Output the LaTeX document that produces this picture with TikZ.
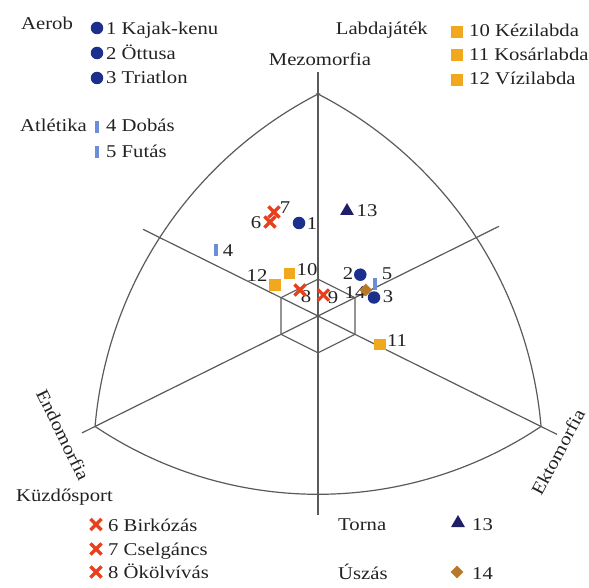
\documentclass[tikz,border=0pt]{standalone}
\usepackage{fontspec}
\setmainfont{Liberation Serif}
\usepackage{graphicx}
\usetikzlibrary{shapes.geometric,shapes.misc}
\definecolor{axis}{HTML}{5A5A5A}
\definecolor{txt}{HTML}{222222}
\definecolor{aerob}{HTML}{1B2F8C}
\definecolor{atl}{HTML}{6B8ED6}
\definecolor{kuzd}{HTML}{E8401C}
\definecolor{labd}{HTML}{F2A81D}
\definecolor{torna}{HTML}{1E1F66}
\definecolor{uszas}{HTML}{B8782A}
\newcommand{\sx}[1]{\scalebox{1.15}[1]{#1}}
\begin{document}
\begin{tikzpicture}[x=1pt,y=-1pt,
  axisline/.style={draw=axis,line width=1.2pt},
  lab/.style={font=\fontsize{18}{20}\selectfont,text=txt,inner sep=0pt},
  aer/.style={circle,fill=aerob,minimum size=12.5pt,inner sep=0pt},
  atlm/.style={rectangle,fill=atl,minimum width=4.5pt,minimum height=11.5pt,inner sep=0pt},
  labm/.style={rectangle,fill=labd,minimum size=11.5pt,inner sep=0pt},
  kuzm/.style={cross out,draw=kuzd,line width=3.2pt,minimum size=8pt,inner sep=0pt},
  tornam/.style={regular polygon,regular polygon sides=3,fill=torna,minimum size=16pt,inner sep=0pt},
  uszm/.style={diamond,fill=uszas,minimum width=13pt,minimum height=13pt,inner sep=0pt},
]
\useasboundingbox (0,0) rectangle (589,588);
% outline
\coordinate (T) at (318,94);
\coordinate (L) at (95,426.5);
\coordinate (R) at (541,426.5);
\coordinate (C) at (318,316);
\draw[axisline] (T) arc[start angle=-62.76,end angle=-4.96,radius=414.2]
  arc[start angle=56.15,end angle=123.85,radius=400.36]
  arc[start angle=184.96,end angle=242.76,radius=414.2] -- cycle;
% axes
\coordinate (V1) at (318,72);
\coordinate (V2) at (318,515);
\coordinate (A1) at (143,229.3);
\coordinate (A2) at (557,434.4);
\coordinate (B1) at (499,226.3);
\coordinate (B2) at (82,432.9);
\draw[axisline] (V1) -- (V2);
\draw[axisline] (A1) -- (A2);
\draw[axisline] (B1) -- (B2);
% hexagon
\draw[axisline] (318,279.2) -- (355,297.7) -- (355,334.3) -- (318,352.8) -- (281,334.3) -- (281,297.7) -- cycle;
% axis titles
\node[lab,anchor=base] (mezo) at (320,66) {\sx{Mezomorfia}};
\node[lab,rotate=-64] (endo) at (63,435) {\sx{Endomorfia}};
\node[lab,rotate=62] (ekto) at (558,452) {\sx{Ektomorfia}};
% chart labels
\node[lab] (l1) at (312,224) {\sx{1}};
\node[lab] (l6) at (256,223) {\sx{6}};
\node[lab] (l7) at (285,208) {\sx{7}};
\node[lab] (l13) at (367,211) {\sx{13}};
\node[lab] (l4) at (228,251) {\sx{4}};
\node[lab] (l10) at (307,270) {\sx{10}};
\node[lab] (l12) at (257,276) {\sx{12}};
\node[lab] (l8) at (306,297) {\sx{8}};
\node[lab] (l9) at (333,297.5) {\sx{9}};
\node[lab] (l2) at (348,274) {\sx{2}};
\node[lab] (l5) at (387,274) {\sx{5}};
\node[lab] (l14) at (355,293) {\sx{14}};
\node[lab] (l3) at (388,297) {\sx{3}};
\node[lab] (l11) at (397,341) {\sx{11}};
% chart markers
\node[aer] (p1) at (299,223) {};
\node[kuzm] (p6) at (270,222) {};
\node[kuzm] (p7) at (274,212) {};
\node[tornam] (p13) at (347,211) {};
\node[atlm] (p4) at (216,250) {};
\node[labm] (p10) at (289.5,273.3) {};
\node[labm] (p12) at (275,285) {};
\node[kuzm] (p8) at (300,290) {};
\node[kuzm] (p9) at (323.3,295) {};
\node[aer] (p2) at (360.3,274.7) {};
\node[atlm] (p5) at (375,284) {};
\node[uszm] (p14) at (365.8,290) {};
\node[aer] (p3) at (374,297.5) {};
\node[labm] (p11) at (380,344.7) {};
% legend: Aerob
\node[lab,anchor=base west] (gAer) at (21,30) {\sx{Aerob}};
\node[aer] (m1) at (97,28) {};
\node[aer] (m2) at (97,53) {};
\node[aer] (m3) at (97,78) {};
\node[lab,anchor=base west] (t1) at (106,35) {\sx{1 Kajak-kenu}};
\node[lab,anchor=base west] (t2) at (106,60) {\sx{2 Öttusa}};
\node[lab,anchor=base west] (t3) at (106,84) {\sx{3 Triatlon}};
% legend: Atletika
\node[lab,anchor=base west] (gAtl) at (20,132) {\sx{Atlétika}};
\node[atlm] (m4) at (97,127) {};
\node[atlm] (m5) at (97,152) {};
\node[lab,anchor=base west] (t4) at (106,132) {\sx{4 Dobás}};
\node[lab,anchor=base west] (t5) at (106,158) {\sx{5 Futás}};
% legend: Labdajatek
\node[lab,anchor=base east] (gLab) at (428,35) {\sx{Labdajáték}};
\node[labm] (m10) at (457,32) {};
\node[labm] (m11) at (457,55) {};
\node[labm] (m12) at (457,80) {};
\node[lab,anchor=base west] (t10) at (469,37) {\sx{10 Kézilabda}};
\node[lab,anchor=base west] (t11) at (469,61) {\sx{11 Kosárlabda}};
\node[lab,anchor=base west] (t12) at (469,85) {\sx{12 Vízilabda}};
% legend: Kuzdosport
\node[lab,anchor=base west] (gKuz) at (16,501) {\sx{Küzdősport}};
\node[kuzm] (m6) at (96,524.5) {};
\node[kuzm] (m7) at (96,549) {};
\node[kuzm] (m8) at (96,572) {};
\node[lab,anchor=base west] (t6) at (108,531) {\sx{6 Birkózás}};
\node[lab,anchor=base west] (t7) at (108,555) {\sx{7 Cselgáncs}};
\node[lab,anchor=base west] (t8) at (108,578) {\sx{8 Ökölvívás}};
% legend: Torna, Uszas
\node[lab,anchor=base west] (gTor) at (338,530) {\sx{Torna}};
\node[tornam] (m13) at (458,523) {};
\node[lab,anchor=base west] (t13) at (472,530) {\sx{13}};
\node[lab,anchor=base west] (gUsz) at (338,579) {\sx{Úszás}};
\node[uszm] (m14) at (457,572) {};
\node[lab,anchor=base west] (t14) at (472,579) {\sx{14}};
\end{tikzpicture}
\end{document}
